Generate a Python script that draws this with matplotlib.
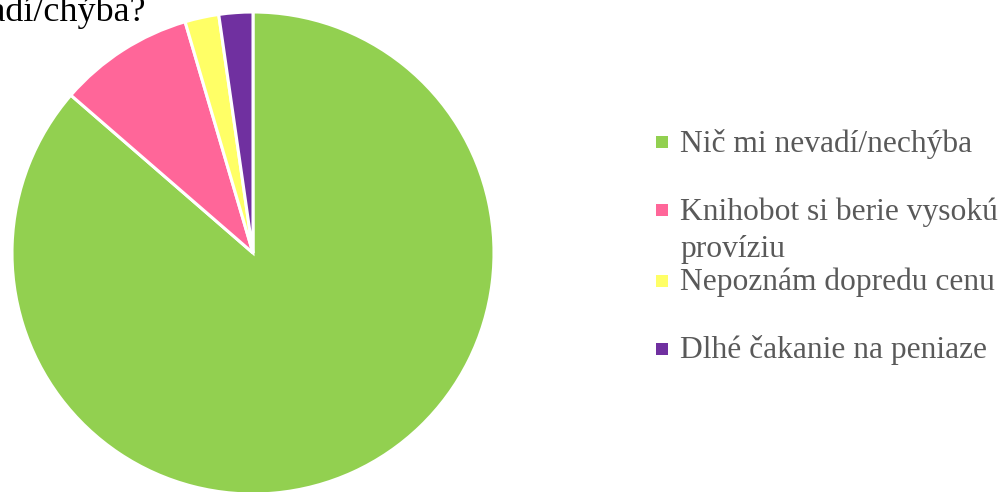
import matplotlib
matplotlib.use("Agg")
import matplotlib.pyplot as plt
from matplotlib.patches import Rectangle

# data
labels = ["Nič mi nevadí/nechýba", "Knihobot si berie vysokú\nprovíziu",
          "Nepoznám dopredu cenu", "Dlhé čakanie na peniaze"]
counts = [38, 4, 1, 1]
colors = ["#92D050", "#FF6699", "#FFFF66", "#7030A0"]
title = "Čo vám pri predaji cez Knihobot vadí/chýba?"

plt.rcParams['font.family'] = ['Liberation Serif', 'DejaVu Serif']

W, H = 1001, 492
fig = plt.figure(figsize=(W / 100, H / 100), dpi=100)

# pie: center (253, 253) px, radius 241 px
ax = fig.add_axes([12 / W, -2 / H, 482 / W, 482 / H])
ax.pie(counts, colors=colors, startangle=90, counterclock=False, radius=1,
       wedgeprops=dict(edgecolor='white', linewidth=2.2))
ax.set_xlim(-1, 1)
ax.set_ylim(-1, 1)
ax.set_aspect('equal')
ax.axis('off')

# title, cropped at the left edge as in the original
fig.text(146 / W, 1 - 21 / H, title, ha='right', va='baseline',
         fontsize=26, color='black')

# legend drawn by hand (marker centre y, text baseline y in px)
marker_y = [142, 210, 281, 349]
text_y = [152, 220, 290, 358]
line_gap = 37
for lab, col, my, ty in zip(labels, colors, marker_y, text_y):
    fig.patches.append(Rectangle((656 / W, 1 - (my + 6) / H), 12 / W, 12 / H,
                                 transform=fig.transFigure, facecolor=col,
                                 edgecolor='none'))
    for k, line in enumerate(lab.split('\n')):
        fig.text(680 / W, 1 - (ty + k * line_gap) / H, line, ha='left',
                 va='baseline', fontsize=22.7, color='#595959')

fig.savefig("out.png", dpi=100)
